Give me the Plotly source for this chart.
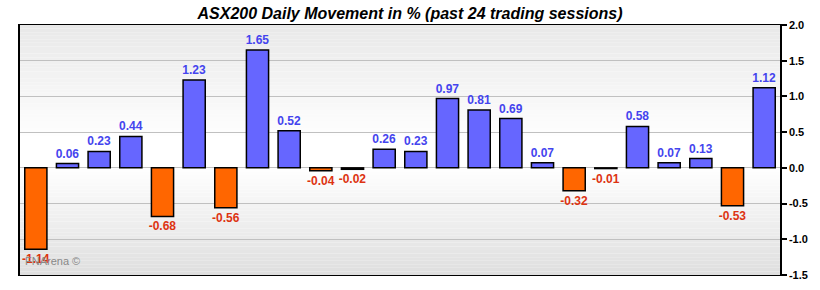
import plotly.graph_objects as go

sessions = list(range(1, 25))
values = [-1.14, 0.06, 0.23, 0.44, -0.68, 1.23, -0.56, 1.65, 0.52, -0.04, -0.02, 0.26,
          0.23, 0.97, 0.81, 0.69, 0.07, -0.32, -0.01, 0.58, 0.07, 0.13, -0.53, 1.12]
tick_vals = [-1.5, -1.0, -0.5, 0.0, 0.5, 1.0, 1.5, 2.0]
title = "ASX200 Daily Movement in % (past 24 trading sessions)"
watermark = "FNArena ©"

POS_FILL, NEG_FILL = "#6666ff", "#ff6600"
POS_TXT, NEG_TXT = "#4444ee", "#dd3311"

fig = go.Figure()
fig.add_trace(go.Bar(
    x=sessions, y=values,
    marker=dict(color=[POS_FILL if v >= 0 else NEG_FILL for v in values],
                line=dict(color="black", width=1.5)),
    width=0.7,
    text=[f"{v:.2f}" for v in values],
    textposition="outside",
    constraintext="none",
    textfont=dict(family="Arial, Liberation Sans", size=12,
                  color=[POS_TXT if v >= 0 else NEG_TXT for v in values], weight="bold"),
    cliponaxis=False,
    hoverinfo="skip",
))

# background gradient strips
ymin, ymax = -1.5, 2.0
n = 70
shapes = []
def col(y):
    if y >= 0.4:
        t = (y - 0.4) / (ymax - 0.4)
        g = 255 - t * (255 - 232)
    elif y >= 0:
        g = 255
    else:
        t = y / ymin
        g = 255 - t * (255 - 222)
    g = int(round(g))
    return f"rgb({g},{g},{g})"
for i in range(n):
    y0 = ymin + (ymax - ymin) * i / n
    y1 = ymin + (ymax - ymin) * (i + 1) / n
    shapes.append(dict(type="rect", xref="x domain", yref="y", x0=0, x1=1, y0=y0, y1=y1,
                       fillcolor=col((y0 + y1) / 2), line=dict(width=0), layer="below"))

fig.update_layout(
    width=820, height=290,
    margin=dict(l=20, r=40, t=25, b=15, autoexpand=False),
    paper_bgcolor="white", plot_bgcolor="white",
    shapes=shapes,
    showlegend=False,
    title=dict(text=f"<b><i>{title}</i></b>", x=0.5, xanchor="center", y=0.955, yanchor="middle",
               font=dict(family="Arial, Liberation Sans", size=16, color="black")),
    xaxis=dict(range=[0.5, 24.5], showticklabels=False, ticks="", showgrid=False, automargin=False,
               zeroline=False, showline=True, linecolor="black", linewidth=1, mirror=True),
    yaxis=dict(range=[ymin, ymax], side="right", tickvals=tick_vals, automargin=False,
               ticktext=[f"{t:.1f}" for t in tick_vals],
               tickfont=dict(family="Arial, Liberation Sans", size=11, color="black", weight="bold"),
               ticks="outside", ticklen=5, tickwidth=1.5, tickcolor="black",
               showgrid=True, gridcolor="#c0c0c0", gridwidth=1,
               zeroline=True, zerolinecolor="#c0c0c0", zerolinewidth=1,
               showline=True, linecolor="black", linewidth=1.5, mirror=True),
    annotations=[dict(text=watermark, xref="paper", yref="paper", x=0.004, y=0.055,
                      xanchor="left", yanchor="middle", showarrow=False,
                      font=dict(family="Arial, Liberation Sans", size=11, color="#888888"))],
)

fig.write_html("out.html")
